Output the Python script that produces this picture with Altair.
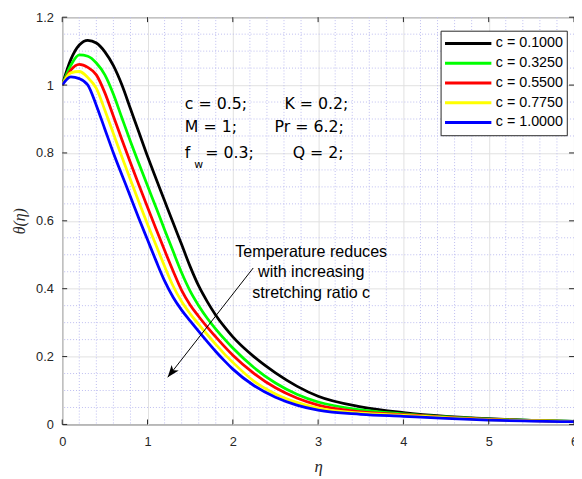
import altair as alt
import pandas as pd

# ---- data ----
eta = [0, 0.1, 0.2, 0.3, 0.4, 0.5, 0.6, 0.7, 0.8, 0.9, 1.0, 1.1, 1.2, 1.3, 1.4, 1.5,
       1.6, 1.7, 1.8, 1.9, 2.0, 2.25, 2.5, 2.75, 3.0, 3.5, 4.0, 4.5, 5.0, 5.5, 6.0]
theta_c0100 = [1.000, 1.075, 1.118, 1.132, 1.124, 1.098, 1.057, 1.000, 0.930, 0.860,
               0.790, 0.724, 0.659, 0.594, 0.530, 0.465, 0.408, 0.362, 0.322, 0.288,
               0.258, 0.199, 0.152, 0.113, 0.083, 0.052, 0.035, 0.024, 0.017, 0.012, 0.009]
theta_c0325 = [1.000, 1.058, 1.089, 1.085, 1.065, 1.030, 0.973, 0.903, 0.834, 0.768,
               0.703, 0.639, 0.574, 0.510, 0.447, 0.393, 0.350, 0.313, 0.281, 0.252,
               0.225, 0.167, 0.122, 0.089, 0.066, 0.043, 0.031, 0.022, 0.016, 0.012, 0.009]
theta_c0550 = [1.000, 1.044, 1.061, 1.052, 1.030, 0.977, 0.908, 0.839, 0.771, 0.705,
               0.640, 0.576, 0.513, 0.452, 0.395, 0.352, 0.318, 0.287, 0.258, 0.230,
               0.204, 0.150, 0.108, 0.078, 0.057, 0.037, 0.029, 0.021, 0.015, 0.011, 0.009]
theta_c0775 = [1.000, 1.036, 1.040, 1.022, 0.990, 0.926, 0.857, 0.788, 0.721, 0.655,
               0.590, 0.528, 0.466, 0.408, 0.362, 0.326, 0.295, 0.265, 0.236, 0.208,
               0.183, 0.127, 0.090, 0.065, 0.048, 0.033, 0.027, 0.020, 0.014, 0.011, 0.008]
theta_c1000 = [1.000, 1.024, 1.019, 1.000, 0.940, 0.870, 0.800, 0.735, 0.671, 0.606,
               0.544, 0.482, 0.423, 0.375, 0.337, 0.305, 0.274, 0.244, 0.215, 0.188,
               0.163, 0.114, 0.080, 0.057, 0.042, 0.030, 0.024, 0.018, 0.013, 0.010, 0.008]

series_labels = ["c = 0.1000", "c = 0.3250", "c = 0.5500", "c = 0.7750", "c = 1.0000"]
series_colors = ["#000000", "#00ff00", "#ff0000", "#ffff00", "#0000ff"]
series_values = [theta_c0100, theta_c0325, theta_c0550, theta_c0775, theta_c1000]

x_ticks = [0, 1, 2, 3, 4, 5, 6]
y_ticks = [0, 0.2, 0.4, 0.6, 0.8, 1.0, 1.2]
x_minor = [round(0.2 * i, 1) for i in range(30) if i % 5 != 0]
y_minor = [round(0.05 * i, 2) for i in range(24) if i % 4 != 0]

param_text = ["c = 0.5;", "K = 0.2;", "M = 1;", "Pr = 6.2;", "f", "= 0.3;", "Q = 2;"]
param_eta = [1.437, 2.605, 1.437, 2.489, 1.437, 1.676, 2.702]
param_theta = [0.930, 0.930, 0.861, 0.861, 0.785, 0.785, 0.785]
sub_text = ["w"]
sub_eta = [1.549]
sub_theta = [0.756]

note_text = ["Temperature reduces\nwith increasing\nstretching ratio c"]
note_eta = [2.919]
note_theta = [0.493]

arrow_eta = [2.239, 1.237]     # start, tip
arrow_theta = [0.461, 0.139]

# ---- tables ----
rows = []
for lab, vals in zip(series_labels, series_values):
    for e, t in zip(eta, vals):
        rows.append({"eta": e, "theta": t, "series": lab})
curves_df = pd.DataFrame(rows)

W, H = 519, 413
AX = "#262626"
FONT = "Liberation Sans"

xs = alt.Scale(domain=[0, 6], nice=False, zero=False)
ys = alt.Scale(domain=[0, 1.2], nice=False, zero=False)

x_axis = alt.Axis(values=x_ticks, grid=True, gridColor="#e1e1e1", gridWidth=1,
                  domain=False, ticks=False, tickSize=0, labelPadding=11,
                  labelFont=FONT, labelFontSize=13, labelColor=AX, labelFlush=False,
                  labelOverlap=False, title="η", titleFont="Liberation Serif",
                  titleFontStyle="italic", titleFontWeight="normal", titleFontSize=17,
                  titleColor=AX, titlePadding=11)
y_axis = alt.Axis(values=y_ticks, format=".1~f", grid=True, gridColor="#e1e1e1",
                  gridWidth=1, domain=False, ticks=False, tickSize=0, labelPadding=9,
                  labelFont=FONT, labelFontSize=13, labelColor=AX, labelFlush=False,
                  labelOverlap=False, title="θ(η)", titleFont="Liberation Serif",
                  titleFontStyle="italic", titleFontWeight="normal", titleFontSize=16,
                  titleColor=AX, titlePadding=8)


def X(field="eta"):
    return alt.X(f"{field}:Q", scale=xs, axis=x_axis)


def Y(field="theta"):
    return alt.Y(f"{field}:Q", scale=ys, axis=y_axis)


minor_color = "#bdbdf0"
minor_x = alt.Chart(pd.DataFrame({"eta": x_minor})).mark_rule(
    color=minor_color, strokeDash=[1, 2], strokeWidth=1).encode(x=X())
minor_y = alt.Chart(pd.DataFrame({"theta": y_minor})).mark_rule(
    color=minor_color, strokeDash=[1, 2], strokeWidth=1).encode(y=Y())

lines = alt.Chart(curves_df).mark_line(strokeWidth=2.8, interpolate="monotone", clip=True).encode(
    x=X(), y=Y(),
    color=alt.Color("series:N",
                    scale=alt.Scale(domain=series_labels, range=series_colors),
                    legend=alt.Legend(title=None, orient="none", legendX=383.7, legendY=13.7,
                                      symbolType="stroke", symbolSize=2209,
                                      symbolStrokeWidth=3, clipHeight=20, rowPadding=0,
                                      labelFont=FONT, labelFontSize=14.5, labelColor="#000000",
                                      labelOffset=3, padding=3, symbolOffset=0,
                                      strokeColor=AX, fillColor="#ffffff")),
)

xt_df = pd.DataFrame({"eta": x_ticks})
yt_df = pd.DataFrame({"theta": y_ticks})
tick_b = alt.Chart(xt_df).mark_rule(color=AX).encode(x=X(), y=alt.value(H), y2=alt.value(H - 5))
tick_t = alt.Chart(xt_df).mark_rule(color=AX).encode(x=X(), y=alt.value(0), y2=alt.value(5))
tick_l = alt.Chart(yt_df).mark_rule(color=AX).encode(y=Y(), x=alt.value(0), x2=alt.value(5))
tick_r = alt.Chart(yt_df).mark_rule(color=AX).encode(y=Y(), x=alt.value(W), x2=alt.value(W - 5))

params = alt.Chart(pd.DataFrame({"eta": param_eta, "theta": param_theta, "t": param_text})).mark_text(
    align="left", baseline="alphabetic", font="DejaVu Sans", fontSize=16, color="#000000").encode(
    x=X(), y=Y(), text="t:N")
subs = alt.Chart(pd.DataFrame({"eta": sub_eta, "theta": sub_theta, "t": sub_text})).mark_text(
    align="left", baseline="alphabetic", font="DejaVu Sans", fontSize=11, color="#000000").encode(
    x=X(), y=Y(), text="t:N")
note = alt.Chart(pd.DataFrame({"eta": note_eta, "theta": note_theta, "t": note_text})).mark_text(
    align="center", baseline="alphabetic", font=FONT, fontSize=16.3, lineHeight=20.5,
    lineBreak="\n", color="#000000").encode(x=X(), y=Y(), text="t:N")

arrow_line = alt.Chart(pd.DataFrame({"eta": [arrow_eta[0]], "theta": [arrow_theta[0]],
                                     "eta2": [arrow_eta[1]], "theta2": [arrow_theta[1]]})).mark_rule(
    color="#000000", strokeWidth=1).encode(x=X(), y=Y(), x2="eta2:Q", y2="theta2:Q")
arrow_head = alt.Chart(pd.DataFrame({"eta": [arrow_eta[1]], "theta": [arrow_theta[1]]})).mark_point(
    shape="M0,0 L0.75,2 L0,1.5 L-0.75,2 Z", size=150, filled=True, color="#000000",
    opacity=1, angle=218).encode(x=X(), y=Y())

chart = alt.layer(
    minor_x, minor_y, lines, tick_b, tick_t, tick_l, tick_r,
    params, subs, note, arrow_line, arrow_head
).properties(
    width=W, height=H,
    padding={"left": 55, "top": 6, "right": 0, "bottom": 52},
    autosize=alt.AutoSizeParams(type="none"),
    background="#ffffff",
).configure_view(stroke=AX, strokeWidth=1)

chart.save("out.html", embed_options={"renderer": "svg", "actions": False})
